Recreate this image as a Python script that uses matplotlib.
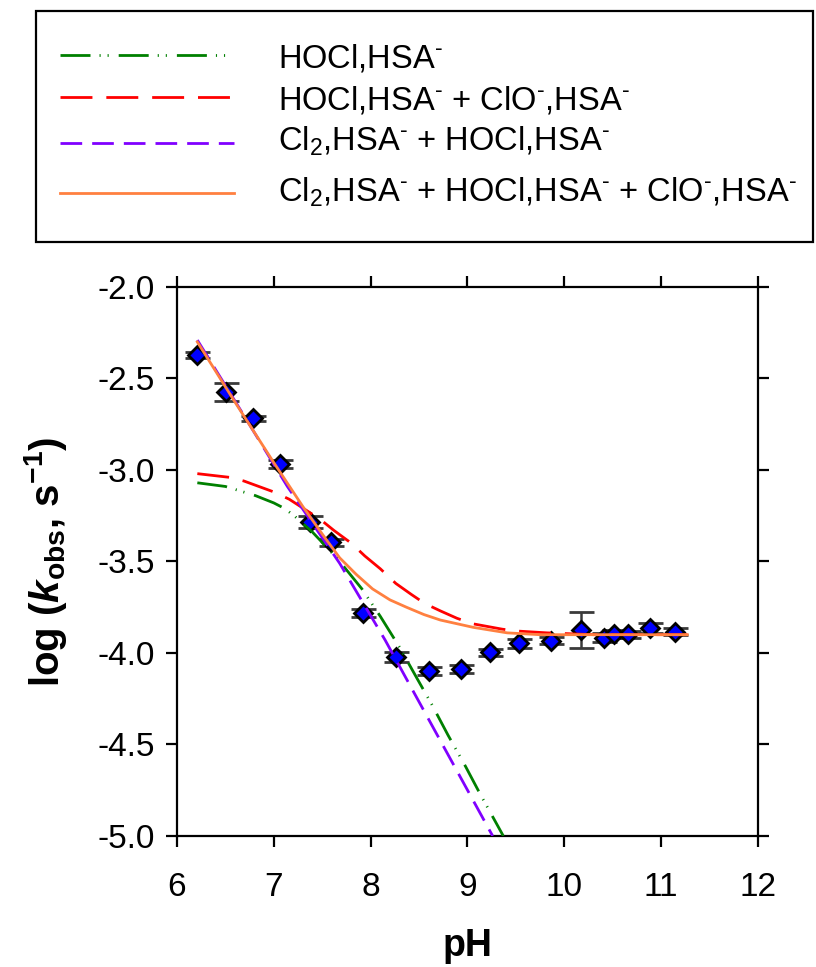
import matplotlib
matplotlib.use("Agg")
import matplotlib.pyplot as plt
from matplotlib.lines import Line2D
from matplotlib.patches import Rectangle

plt.rcParams['font.family'] = ['Liberation Sans', 'DejaVu Sans']
plt.rcParams['mathtext.fontset'] = 'custom'
plt.rcParams['mathtext.rm'] = 'Liberation Sans'
plt.rcParams['mathtext.it'] = 'Liberation Sans:italic:bold'
plt.rcParams['mathtext.bf'] = 'Liberation Sans:bold'
plt.rcParams['axes.unicode_minus'] = False
plt.rcParams['lines.scale_dashes'] = False

# measured points
ph = [6.21, 6.51, 6.785, 7.06, 7.37, 7.59, 7.925, 8.26, 8.60, 8.93,
      9.23, 9.53, 9.86, 10.17, 10.41, 10.51, 10.66, 10.88, 11.14]
logk = [-2.372, -2.572, -2.718, -2.967, -3.286, -3.395, -3.78, -4.024, -4.098, -4.087,
        -3.996, -3.947, -3.933, -3.874, -3.916, -3.896, -3.898, -3.862, -3.884]
logk_err = [0.015, 0.05, 0.013, 0.024, 0.032, 0.018, 0.023, 0.027, 0.023, 0.02,
            0.018, 0.025, 0.02, 0.10, 0.025, 0.02, 0.02, 0.027, 0.02]

# model curves
green_x = [6.21, 6.50, 6.81, 7.00, 7.11, 7.21, 7.40, 7.65, 7.91, 8.10, 8.30, 8.48,
           8.63, 8.80, 8.98, 9.13, 9.37]
green_y = [-3.07, -3.09, -3.14, -3.18, -3.21, -3.25, -3.34, -3.48, -3.65, -3.80, -3.97, -4.14,
           -4.28, -4.45, -4.62, -4.77, -5.00]

red_x = [6.21, 6.54, 6.69, 7.00, 7.16, 7.48, 7.62, 7.80, 7.94, 8.10, 8.26, 8.42, 8.56,
         8.72, 8.89, 9.05, 9.36, 9.51, 9.82, 10.30, 11.27]
red_y = [-3.02, -3.04, -3.06, -3.12, -3.16, -3.27, -3.33, -3.40, -3.47, -3.54, -3.62, -3.68, -3.73,
         -3.77, -3.81, -3.84, -3.87, -3.88, -3.89, -3.90, -3.90]

purple_x = [6.21, 6.70, 7.14, 7.68, 8.15, 8.70, 9.26]
purple_y = [-2.29, -2.71, -3.09, -3.51, -3.93, -4.46, -5.00]

orange_x = [6.21, 6.60, 7.00, 7.30, 7.50, 7.68, 7.85, 8.02, 8.20, 8.37, 8.55, 8.72,
            9.06, 9.41, 9.75, 10.30, 11.27]
orange_y = [-2.30, -2.63, -2.96, -3.20, -3.35, -3.48, -3.57, -3.65, -3.71, -3.75, -3.79, -3.82,
            -3.86, -3.89, -3.90, -3.90, -3.90]

labels = [r'HOCl,HSA$^{\text{-}}$',
          r'HOCl,HSA$^{\text{-}}$ + ClO$^{\text{-}}$,HSA$^{\text{-}}$',
          r'Cl$_{2}$,HSA$^{\text{-}}$ + HOCl,HSA$^{\text{-}}$',
          r'Cl$_{2}$,HSA$^{\text{-}}$ + HOCl,HSA$^{\text{-}}$ + ClO$^{\text{-}}$,HSA$^{\text{-}}$']

styles = [dict(color='#008000', lw=2.0, dashes=(21.6, 6.5, 0.8, 5, 0.8, 7.2)),
          dict(color='#ff0000', lw=2.0, dashes=(23, 10)),
          dict(color='#8000ff', lw=2.0, dashes=(15.6, 7.2)),
          dict(color='#ff8040', lw=2.0, ls='-')]

fig = plt.figure(figsize=(8.16, 9.67), dpi=100)
ax = fig.add_axes([0.2169, 0.1355, 0.712, 0.5677])

ax.errorbar(ph, logk, yerr=logk_err, fmt='D', mfc='#0000ff', mec='black', mew=2, ms=9.5,
            ecolor='#3a3a3a', elinewidth=1.8, capsize=9, capthick=2.2, zorder=3)

curves = [(green_x, green_y), (red_x, red_y), (purple_x, purple_y), (orange_x, orange_y)]
for (cx, cy), st in zip(curves, styles):
    ax.plot(cx, cy, zorder=4, **st)

ax.set_xlim(6, 12)
ax.set_ylim(-5, -2)
ax.set_xticks(range(6, 13))
ax.set_yticks([-5.0, -4.5, -4.0, -3.5, -3.0, -2.5, -2.0])
ax.yaxis.set_major_formatter(matplotlib.ticker.FormatStrFormatter('%.1f'))
for sp in ax.spines.values():
    sp.set_linewidth(1.6)
ax.tick_params(direction='out', length=8, width=1.6, top=True, right=True, labelsize=24)
ax.tick_params(axis='x', pad=18)
ax.tick_params(axis='y', pad=8)

ax.set_xlabel('pH', fontsize=27, fontweight='bold', labelpad=18)
ax.set_ylabel(r'log ($\mathit{k}_{\mathbf{obs}}$, s$^{\mathbf{-1}}$)', fontsize=29,
              fontweight='bold', labelpad=20)

# legend box drawn in figure pixels
W, H = 816, 967
fig.add_artist(Rectangle((36 / W, 1 - 242 / H), 777 / W, 231 / H, transform=fig.transFigure,
                         fill=False, lw=1.6, ec='black'))
line_y = [55, 97, 143, 193]
text_y = [68, 110, 151, 202]
for ly, ty, lab, st in zip(line_y, text_y, labels, styles):
    fig.add_artist(Line2D([60 / W, 234 / W], [1 - ly / H, 1 - ly / H],
                          transform=fig.transFigure, **st))
    fig.text(278 / W, 1 - ty / H, lab, fontsize=23.5, va='baseline', ha='left')

fig.savefig('out.png', dpi=100)
